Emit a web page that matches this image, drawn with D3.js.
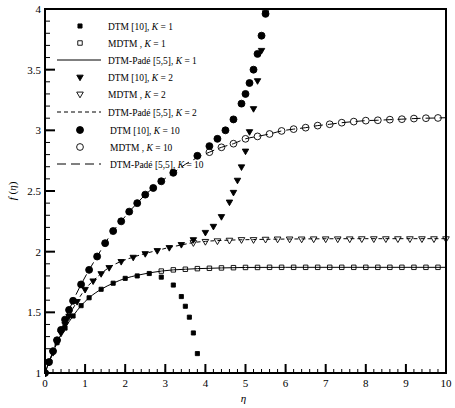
<!DOCTYPE html>
<html>
<head>
<meta charset="utf-8">
<script src="https://cdn.jsdelivr.net/npm/d3@7"></script>
<style>
  body { margin: 0; background: #fff; }
  svg { font-family: "Liberation Serif", "DejaVu Serif", serif; }
</style>
</head>
<body>
<div id="chart"></div>
<script>
// tick values
var xTicks = [0, 1, 2, 3, 4, 5, 6, 7, 8, 9, 10];
var yTicks = [1, 1.5, 2, 2.5, 3, 3.5, 4];

// series: [eta, f]
var dtmK1 = [[0,1],[0.1,1.09],[0.3,1.25],[0.5,1.37],[0.7,1.47],[0.9,1.555],[1.1,1.62],[1.4,1.69],[1.7,1.74],
  [2.0,1.78],[2.3,1.80],[2.6,1.82],[2.9,1.79],[3.2,1.725],[3.4,1.63],[3.5,1.55],[3.6,1.46],[3.7,1.33],[3.8,1.16]];
var mdtmK1 = [[2.9,1.84],[3.2,1.85],[3.5,1.855],[3.8,1.86],[4.1,1.863],[4.4,1.866],[4.7,1.868],[5.0,1.87],
  [5.3,1.87],[5.6,1.871],[5.9,1.871],[6.2,1.871],[6.5,1.871],[6.8,1.871],[7.1,1.871],[7.4,1.871],[7.7,1.871],
  [8.0,1.871],[8.3,1.871],[8.6,1.871],[8.9,1.871],[9.2,1.871],[9.5,1.871],[9.8,1.871]];
var padeK1 = [[0,1],[0.1,1.09],[0.2,1.17],[0.3,1.25],[0.5,1.37],[0.7,1.47],[0.9,1.555],[1.1,1.62],[1.4,1.69],
  [1.7,1.74],[2.0,1.78],[2.3,1.805],[2.6,1.825],[2.9,1.84],[3.2,1.85],[3.5,1.855],[3.8,1.86],[4.4,1.866],
  [5.0,1.87],[6,1.871],[8,1.871],[10,1.871]];

var dtmK2 = [[0,1],[0.1,1.09],[0.2,1.17],[0.3,1.26],[0.4,1.33],[0.5,1.40],[0.6,1.47],[0.8,1.59],[1.0,1.69],
  [1.2,1.76],[1.4,1.82],[1.6,1.87],[1.9,1.92],[2.2,1.955],[2.5,1.985],[2.8,2.01],[3.1,2.035],[3.4,2.06],
  [3.7,2.10],[4.0,2.16],[4.2,2.21],[4.4,2.29],[4.6,2.41],[4.7,2.49],[4.8,2.59],[4.9,2.70],[5.0,2.83],
  [5.1,2.99],[5.2,3.18],[5.3,3.41],[5.4,3.66],[5.5,3.97]];
var mdtmK2 = [[3.7,2.075],[4.0,2.085],[4.3,2.09],[4.6,2.095],[4.9,2.10],[5.2,2.10],[5.5,2.103],[5.8,2.105],
  [6.1,2.105],[6.4,2.105],[6.7,2.106],[7.0,2.106],[7.3,2.106],[7.6,2.106],[7.9,2.107],[8.2,2.107],[8.5,2.107],
  [8.8,2.107],[9.1,2.107],[9.4,2.107],[9.7,2.107],[10.0,2.107]];
var padeK2 = [[0,1],[0.2,1.17],[0.4,1.33],[0.6,1.47],[0.8,1.59],[1.0,1.69],[1.2,1.76],[1.4,1.82],[1.6,1.87],
  [1.9,1.92],[2.2,1.955],[2.5,1.985],[2.8,2.01],[3.1,2.035],[3.4,2.055],[3.7,2.075],[4.0,2.085],[4.6,2.095],
  [5.2,2.10],[6.4,2.105],[8,2.107],[10,2.107]];

var dtmK10 = [[0,1],[0.1,1.09],[0.2,1.18],[0.3,1.27],[0.4,1.355],[0.5,1.44],[0.6,1.52],[0.7,1.595],[0.9,1.73],
  [1.1,1.85],[1.3,1.96],[1.5,2.07],[1.7,2.17],[1.9,2.25],[2.1,2.33],[2.3,2.40],[2.5,2.47],[2.7,2.525],[2.9,2.58],
  [3.2,2.65],[3.8,2.79],[4.1,2.87],[4.3,2.93],[4.5,3.0],[4.7,3.09],[4.9,3.22],[5.0,3.30],[5.1,3.39],[5.2,3.50],
  [5.3,3.63],[5.4,3.78],[5.5,3.96]];
var mdtmK10 = [[4.1,2.82],[4.4,2.86],[4.7,2.89],[5.0,2.93],[5.3,2.95],[5.6,2.97],[5.9,2.995],[6.2,3.01],
  [6.5,3.022],[6.8,3.039],[7.1,3.05],[7.4,3.063],[7.7,3.072],[8.0,3.08],[8.3,3.083],[8.6,3.088],[8.9,3.092],
  [9.2,3.097],[9.5,3.1],[9.8,3.102]];
var padeK10 = [[0,1],[0.1,1.09],[0.2,1.18],[0.3,1.27],[0.4,1.355],[0.5,1.44],[0.6,1.52],[0.7,1.595],[0.9,1.73],
  [1.1,1.85],[1.3,1.96],[1.5,2.07],[1.7,2.17],[1.9,2.25],[2.1,2.33],[2.3,2.40],[2.5,2.47],[2.7,2.525],[2.9,2.58],
  [3.2,2.65],[3.5,2.72],[3.8,2.775],[4.1,2.82],[4.4,2.86],[4.7,2.89],[5.0,2.93],[5.3,2.95],[5.6,2.97],[5.9,2.995],
  [6.2,3.01],[6.5,3.022],[6.8,3.039],[7.1,3.05],[7.4,3.063],[7.7,3.072],[8.0,3.08],[8.3,3.083],[8.6,3.088],
  [8.9,3.092],[9.2,3.097],[9.5,3.1],[9.8,3.102],[10,3.104]];

var legendLabels = [
  ["DTM [10], ", "1"], ["MDTM , ", "1"], ["DTM-Padé [5,5], ", "1"],
  ["DTM [10], ", "2"], ["MDTM , ", "2"], ["DTM-Padé [5,5], ", "2"],
  ["DTM [10], ", "10"], ["MDTM , ", "10"], ["DTM-Padé [5,5], ", "10"]
];

var W = 455, H = 408;
var margin = { top: 9, right: 9, bottom: 35, left: 45 };

var svg = d3.select("#chart").append("svg")
  .attr("width", W).attr("height", H);

var x = d3.scaleLinear().domain([0, 10]).range([margin.left, W - margin.right]);
var y = d3.scaleLinear().domain([1, 4]).range([H - margin.bottom, margin.top]);

var plot = svg.append("g");
plot.append("clipPath").attr("id", "clip")
  .append("rect")
  .attr("x", x(0)).attr("y", y(4) - 4)
  .attr("width", x(10) - x(0) + 4).attr("height", y(1) - y(4) + 8);

var line = d3.line()
  .x(d => x(d[0])).y(d => y(d[1]))
  .curve(d3.curveMonotoneX);

// Padé curves
var curves = [
  { data: padeK1, dash: null },
  { data: padeK2, dash: "4,3" },
  { data: padeK10, dash: "9,5" }
];
curves.forEach(c => {
  plot.append("path")
    .attr("d", line(c.data))
    .attr("fill", "none")
    .attr("stroke", "#000")
    .attr("stroke-width", 1)
    .attr("stroke-dasharray", c.dash);
});

// marker styles
var sq = d3.symbol().type(d3.symbolSquare);
var tri = d3.symbol().type(d3.symbolTriangle);
var circ = d3.symbol().type(d3.symbolCircle);

var styles = {
  dtmK1: { gen: sq, size: 17, fill: "#000", rot: 0 },
  mdtmK1: { gen: sq, size: 20, fill: "none", rot: 0 },
  dtmK2: { gen: tri, size: 18, fill: "#000", rot: 180 },
  mdtmK2: { gen: tri, size: 19, fill: "none", rot: 180 },
  dtmK10: { gen: circ, size: 38, fill: "#000", rot: 0 },
  mdtmK10: { gen: circ, size: 36, fill: "none", rot: 0 }
};

var markerSets = [
  [dtmK1, styles.dtmK1], [mdtmK1, styles.mdtmK1],
  [dtmK2, styles.dtmK2], [mdtmK2, styles.mdtmK2],
  [dtmK10, styles.dtmK10], [mdtmK10, styles.mdtmK10]
];
markerSets.forEach(ms => {
  var m = ms[1];
  plot.append("g").attr("clip-path", "url(#clip)")
    .selectAll("path")
    .data(ms[0])
    .enter().append("path")
    .attr("d", m.gen.size(m.size)())
    .attr("transform", d => "translate(" + x(d[0]) + "," + y(d[1]) + ") rotate(" + m.rot + ")")
    .attr("fill", m.fill)
    .attr("stroke", "#000")
    .attr("stroke-width", 0.9);
});

// frame
svg.append("rect")
  .attr("x", x(0)).attr("y", y(4))
  .attr("width", x(10) - x(0)).attr("height", y(1) - y(4))
  .attr("fill", "none").attr("stroke", "#000").attr("stroke-width", 2);

// ticks, pointing inward
var ax = svg.append("g");
var xMinor = d3.range(0, 10.001, 0.2);
var yMinor = d3.range(1, 4.001, 0.1);

ax.selectAll(".xminor").data(xMinor).enter().append("line")
  .attr("x1", d => x(d)).attr("x2", d => x(d))
  .attr("y1", y(1)).attr("y2", y(1) - 4)
  .attr("stroke", "#000").attr("stroke-width", 1);
ax.selectAll(".xmajor").data(xTicks).enter().append("line")
  .attr("x1", d => x(d)).attr("x2", d => x(d))
  .attr("y1", y(1)).attr("y2", y(1) - 9)
  .attr("stroke", "#000").attr("stroke-width", 2);
ax.selectAll(".yminor").data(yMinor).enter().append("line")
  .attr("x1", x(0)).attr("x2", x(0) + 5)
  .attr("y1", d => y(d)).attr("y2", d => y(d))
  .attr("stroke", "#000").attr("stroke-width", 1);
ax.selectAll(".ymajor").data(yTicks).enter().append("line")
  .attr("x1", x(0)).attr("x2", x(0) + 10)
  .attr("y1", d => y(d)).attr("y2", d => y(d))
  .attr("stroke", "#000").attr("stroke-width", 2);

ax.selectAll(".xlab").data(xTicks).enter().append("text")
  .attr("x", d => x(d)).attr("y", y(1) + 14)
  .attr("text-anchor", "middle")
  .attr("font-size", 11)
  .text(d => d);
ax.selectAll(".ylab").data(yTicks).enter().append("text")
  .attr("x", x(0) - 4).attr("y", d => y(d) + 4)
  .attr("text-anchor", "end")
  .attr("font-size", 11)
  .text(d => d);

// axis titles
svg.append("text")
  .attr("x", x(5) - 2).attr("y", 402)
  .attr("text-anchor", "middle")
  .attr("font-size", 11)
  .attr("font-style", "italic")
  .text("η");

var yt = svg.append("text")
  .attr("transform", "translate(16," + y(2.5) + ") rotate(-90)")
  .attr("text-anchor", "middle")
  .attr("font-size", 11);
yt.append("tspan").attr("font-style", "italic").text("f");
yt.append("tspan").text(" (");
yt.append("tspan").attr("font-style", "italic").text("η");
yt.append("tspan").text(")");

// legend (text is narrow in the original, so squeeze it horizontally)
var legY = [26, 43, 60, 77, 94, 112, 130, 147, 164];
var lg = svg.append("g");
var legSyms = [
  styles.dtmK1, styles.mdtmK1, { dash: null },
  styles.dtmK2, styles.mdtmK2, { dash: "4,3" },
  styles.dtmK10, styles.mdtmK10, { dash: "9,5" }
];
legendLabels.forEach((lab, i) => {
  var s = legSyms[i];
  var yy = legY[i];
  if (s.gen) {
    lg.append("path")
      .attr("d", s.gen.size(s.size)())
      .attr("transform", "translate(80," + yy + ") rotate(" + s.rot + ")")
      .attr("fill", s.fill).attr("stroke", "#000").attr("stroke-width", 0.9);
  } else {
    lg.append("line")
      .attr("x1", 57).attr("x2", 101).attr("y1", yy).attr("y2", yy)
      .attr("stroke", "#000").attr("stroke-width", 1)
      .attr("stroke-dasharray", s.dash);
  }
  var t = lg.append("text")
    .attr("transform", "translate(" + (i >= 6 ? 110 : 108) + "," + (yy + 4) + ") scale(0.86,1)")
    .attr("font-size", 11);
  t.append("tspan").text(lab[0]);
  t.append("tspan").attr("font-style", "italic").text("K");
  t.append("tspan").text(" = " + lab[1]);
});
</script>
</body>
</html>
